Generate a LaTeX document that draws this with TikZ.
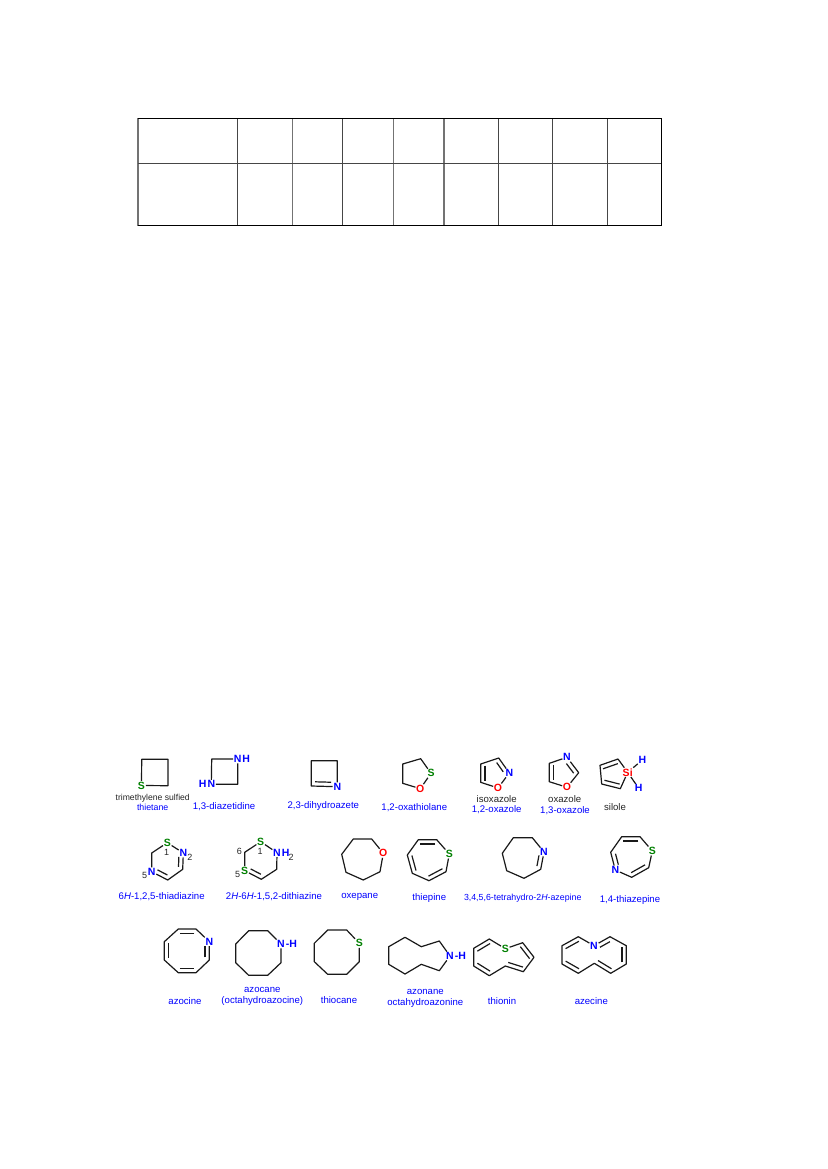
\documentclass[tikz,border=0pt]{standalone}
\usepackage{fontspec}
\setmainfont{Liberation Sans}
\usetikzlibrary{calc}
\definecolor{hblue}{RGB}{0,0,255}
\definecolor{hgreen}{RGB}{0,128,0}
\definecolor{hred}{RGB}{255,0,0}
\definecolor{gridgray}{RGB}{70,70,70}
\definecolor{gridsoft}{RGB}{115,115,115}
\tikzset{
 bond/.style={line width=1.2pt,black!90,line join=round},
 atom/.style={inner sep=0.6pt,font=\fontsize{10.5}{11}\selectfont\bfseries},
 atomN/.style={atom,text=hblue},
 atomS/.style={atom,text=hgreen},
 atomO/.style={atom,text=hred},
 lblue/.style={inner sep=0pt,text=hblue,font=\fontsize{9.6}{10}\selectfont},
 lblack/.style={inner sep=0pt,text=black!85,font=\fontsize{9.6}{10}\selectfont},
 lnum/.style={inner sep=0pt,text=black!85,font=\fontsize{9}{10}\selectfont},
 gridline/.style={line width=.9pt,gridgray},
 gridsoftline/.style={line width=1.4pt,gridsoft},
 gridouter/.style={line width=1pt,black},
}
\newcommand{\C}[2]{\coordinate (#1) at (#2);}
\newcommand{\inb}[2]{\draw[bond] ($(#1)!.09!(#2)!4.3pt!90:(#2)$) -- ($(#1)!.91!(#2)!4.3pt!-90:(#1)$);}
\newcommand{\inh}[2]{\draw[bond] ($(#1)!.14!(#2)!4.3pt!90:(#2)$) -- ($(#1)!.76!(#2)!4.3pt!-90:(#1)$);}
\newcommand{\inr}[2]{\draw[bond] ($(#1)!.24!(#2)!4.3pt!90:(#2)$) -- ($(#1)!.86!(#2)!4.3pt!-90:(#1)$);}
\begin{document}
\begin{tikzpicture}[x=1pt,y=-1pt]
\useasboundingbox (0,0) rectangle (827,1169);
\fill[white] (0,0) rectangle (827,1169);
% table
\coordinate (tl) at (138,118.5); \coordinate (tr) at (661,118.5);
\coordinate (ml) at (138,163.5); \coordinate (mr) at (661,163.5);
\coordinate (bl) at (138,225.5); \coordinate (br) at (661,225.5);
\foreach \x in {138,292.5,393.5,444}{\draw[gridsoftline] (\x,118.5) -- (\x,225.5);}
\foreach \x in {237,342.5,498,552,607.5}{\draw[gridline] (\x,118.5) -- (\x,225.5);}
\draw[gridline] (ml) -- (mr);
\draw[gridouter] (bl) -- (br) -- (tr) -- (tl);
% thietane
\C{a1}{141.7,759.3}\C{a2}{168,759.3}\C{a3}{168,785.7}
\node[atomS] (aS) at (141.5,785.5) {S};
\draw[bond] (aS) -- (a1) -- (a2) -- (a3) -- (aS);
\node[lblack,font=\fontsize{8.6}{10}\selectfont] (ta) at (152.7,798) {trimethylene sulfied};
\node[lblue,font=\fontsize{8.8}{10}\selectfont] (tb) at (152.7,807.7) {thietane};
% diazetidine
\C{b1}{211.7,759}\C{b2}{237.7,784.3}
\node[atomN] (bN1) at (237.7,759) {N};
\node[atomN,anchor=west,inner sep=0pt] (bH1) at (bN1.east) {H};
\node[atomN] (bN2) at (211.3,784.3) {N};
\node[atomN,anchor=east,inner sep=0pt] (bH2) at (bN2.west) {H};
\draw[bond] (bN2) -- (b1) -- (bN1) -- (b2) -- (bN2);
\node[lblue] (tc) at (224,806.7) {1,3-diazetidine};
% azete
\C{c1}{311.3,760.7}\C{c2}{337.3,760.7}\C{c4}{311.3,786}
\node[atomN] (cN) at (337.3,786.7) {N};
\draw[bond] (cN) -- (c2) -- (c1) -- (c4) -- (cN);
\inh{c4}{cN}
\node[lblue] (td) at (323.3,805.7) {2,3-dihydroazete};
% oxathiolane
\C{d1}{402.7,764}\C{d2}{420.7,758.7}\C{d5}{402.7,783.3}
\node[atomS] (dS) at (431,773.3) {S};
\node[atomO] (dO) at (420.3,788.7) {O};
\draw[bond] (dS) -- (d2) -- (d1) -- (d5) -- (dO) -- (dS);
\node[lblue] (te) at (414.3,807.3) {1,2-oxathiolane};
% isoxazole
\C{e1}{480.7,764}\C{e2}{498.7,758}\C{e5}{480.7,782.3}
\node[atomN] (eN) at (509.3,773) {N};
\node[atomO] (eO) at (498,788) {O};
\draw[bond] (eN) -- (e2) -- (e1) -- (e5) -- (eO) -- (eN);
\inb{e1}{e5}\inr{eN}{e2}
\node[lblack] (tf) at (496.7,798.7) {isoxazole};
\node[lblue] (tg) at (496.7,809.7) {1,2-oxazole};
% oxazole
\C{f1}{549.3,763.3}\C{f3}{578.7,772.7}\C{f5}{549.3,781.7}
\node[atomN] (fN) at (567,757.3) {N};
\node[atomO] (fO) at (567,787.3) {O};
\draw[bond] (fN) -- (f1) -- (f5) -- (fO) -- (f3) -- (fN);
\inb{f1}{f5}\inh{f3}{fN}
\node[lblack] (th) at (564.7,799.3) {oxazole};
\node[lblue] (ti) at (565,810.3) {1,3-oxazole};
% silole
\C{g1}{618,759}\C{g2}{600,765.3}\C{g3}{601.7,784}\C{g4}{620.3,788.7}
\node[atom,text=hred] (gSi) at (627.7,772.3) {Si};
\node[atomN] (gH1) at (642.3,760) {H};
\node[atomN] (gH2) at (638.7,788.3) {H};
\draw[bond] (gSi) -- (g1) -- (g2) -- (g3) -- (g4) -- (gSi);
\draw[bond] (gSi) -- (gH1);
\draw[bond] (gSi) -- (gH2);
\inb{g1}{g2}\inb{g3}{g4}
\node[lblack] (tj) at (615,807.3) {silole};
% thiadiazine
\C{h3}{182.7,869.3}\C{h4}{167.7,880}\C{h6}{151.7,853}
\node[atomS] (hS) at (167.3,842.7) {S};
\node[atomN] (hN2) at (183.3,853) {N};
\node[atomN] (hN5) at (151.7,871.7) {N};
\draw[bond] (hS) -- (hN2) -- (h3) -- (h4) -- (hN5) -- (h6) -- (hS);
\inh{h3}{hN2}\inr{hN5}{h4}
\node[lnum] (hn1) at (166.7,852.3) {1};
\node[lnum] (hn2) at (190,857.3) {2};
\node[lnum] (hn5) at (144.7,875) {5};
\node[lblue] (tk) at (161.7,896.7) {6\textit{H}-1,2,5-thiadiazine};
% dithiazine
\C{i3}{276.7,869.3}\C{i4}{261.3,879.3}\C{i6}{244.7,852.3}
\node[atomS] (iS1) at (260.7,841.7) {S};
\node[atomN] (iN) at (277,852.7) {N};
\node[atomN,anchor=west,inner sep=0pt] (iH) at (iN.east) {H};
\node[atomS] (iS5) at (244.7,870.7) {S};
\draw[bond] (iS1) -- (iN) -- (i3) -- (i4) -- (iS5) -- (i6) -- (iS1);
\inr{iS5}{i4}
\node[lnum] (in1) at (260,851) {1};
\node[lnum] (in2) at (291,857.3) {2};
\node[lnum] (in6) at (239.3,851.7) {6};
\node[lnum] (in5) at (237.7,874.3) {5};
\node[lblue] (tl2) at (274,896.3) {2\textit{H}-6\textit{H}-1,5,2-dithiazine};
% oxepane
\C{j1}{371.7,839}\C{j2}{353.3,839}\C{j3}{341.7,854.3}\C{j4}{346,872.3}\C{j5}{363.3,880}\C{j6}{380,871.7}
\node[atomO] (jO) at (383.3,853.3) {O};
\draw[bond] (jO) -- (j1) -- (j2) -- (j3) -- (j4) -- (j5) -- (j6) -- (jO);
\node[lblue] (tm) at (359.7,897) {oxepane};
% thiepine
\C{k1}{436.7,839.7}\C{k2}{418.3,839.7}\C{k3}{407.3,855}\C{k4}{412.3,873.3}\C{k5}{429,880.7}\C{k6}{446,871.7}
\node[atomS] (kS) at (449.3,854) {S};
\draw[bond] (kS) -- (k1) -- (k2) -- (k3) -- (k4) -- (k5) -- (k6) -- (kS);
\inb{k1}{k2}\inb{k3}{k4}\inb{k5}{k6}
\node[lblue] (tn) at (429.3,897.7) {thiepine};
% azepine
\C{l1}{532.3,837.7}\C{l2}{513.3,837.7}\C{l3}{502.3,853.3}\C{l4}{506.7,870.7}\C{l5}{524,878.3}\C{l6}{540.7,869.3}
\node[atomN] (lN) at (544,852) {N};
\draw[bond] (lN) -- (l1) -- (l2) -- (l3) -- (l4) -- (l5) -- (l6) -- (lN);
\inh{l6}{lN}
\node[lblue,font=\fontsize{8.8}{10}\selectfont] (to) at (522.7,898) {3,4,5,6-tetrahydro-2\textit{H}-azepine};
% thiazepine
\C{m1}{640,836.7}\C{m2}{621.7,836.7}\C{m3}{610.7,852.3}\C{m5}{631.7,877.3}\C{m6}{648.7,867.7}
\node[atomS] (mS) at (652.3,851) {S};
\node[atomN] (mN) at (615.3,870) {N};
\draw[bond] (mS) -- (m1) -- (m2) -- (m3) -- (mN) -- (m5) -- (m6) -- (mS);
\inb{m1}{m2}\inh{m3}{mN}\inb{m5}{m6}
\node[lblue] (tp) at (630,900) {1,4-thiazepine};
% azocine
\C{n1}{196,929}\C{n2}{178.3,929}\C{n3}{164.3,941.7}\C{n4}{164.3,960}\C{n5}{178.3,972.7}\C{n6}{196,972.7}\C{n7}{209.3,960}
\node[atomN] (nN) at (209.3,941.7) {N};
\draw[bond] (nN) -- (n1) -- (n2) -- (n3) -- (n4) -- (n5) -- (n6) -- (n7) -- (nN);
\inb{n1}{n2}\inb{n3}{n4}\inb{n5}{n6}\inh{n7}{nN}
\node[lblue] (tq) at (185,1000.7) {azocine};
% azocane
\C{o1}{267.7,930.7}\C{o2}{248.7,930.7}\C{o3}{235.7,944}\C{o4}{235.7,962.7}\C{o5}{248.7,975.3}\C{o6}{267.7,975.3}\C{o7}{281,962.7}
\node[atomN] (oN) at (281,944) {N};
\node[atomN,anchor=west,inner sep=0pt] (oH) at (oN.east) {-H};
\draw[bond] (oN) -- (o1) -- (o2) -- (o3) -- (o4) -- (o5) -- (o6) -- (o7) -- (oN);
\node[lblue] (tr1) at (262.3,990.3) {azocane};
\node[lblue] (tr2) at (262.3,1001) {(octahydroazocine)};
% thiocane
\C{p1}{346.7,930}\C{p2}{327.7,930}\C{p3}{314.3,943.3}\C{p4}{314.3,961.7}\C{p5}{327.7,974.3}\C{p6}{346.7,974.3}\C{p7}{359.3,961.7}
\node[atomS] (pS) at (359.3,943.3) {S};
\draw[bond] (pS) -- (p1) -- (p2) -- (p3) -- (p4) -- (p5) -- (p6) -- (p7) -- (pS);
\node[lblue] (ts) at (339,1000.3) {thiocane};
% azonane
\C{q1}{439.3,941}\C{q2}{421.3,946.7}\C{q3}{405,937.3}\C{q4}{388.7,946.7}\C{q5}{388.7,964.3}\C{q6}{405,974}\C{q7}{421.3,964.3}\C{q8}{439.3,970.7}
\node[atomN] (qN) at (450,956) {N};
\node[atomN,anchor=west,inner sep=0pt] (qH) at (qN.east) {-H};
\draw[bond] (qN) -- (q1) -- (q2) -- (q3) -- (q4) -- (q5) -- (q6) -- (q7) -- (q8) -- (qN);
\node[lblue] (tt1) at (425.3,991.7) {azonane};
\node[lblue] (tt2) at (425.3,1003) {octahydroazonine};
% thionin
\C{r1}{489.3,939}\C{r2}{473.7,948.3}\C{r3}{473.7,966}\C{r4}{489.3,975.7}\C{r5}{505.3,966}\C{r6}{523.3,971.7}\C{r7}{534,957.3}\C{r8}{522.7,942.7}
\node[atomS] (rS) at (505.3,948.7) {S};
\draw[bond] (rS) -- (r1) -- (r2) -- (r3) -- (r4) -- (r5) -- (r6) -- (r7) -- (r8) -- (rS);
\inb{r1}{r2}\inb{r3}{r4}\inb{r5}{r6}\inb{r7}{r8}
\node[lblue] (tu) at (502,1001.3) {thionin};
% azecine
\C{s1}{578.3,936.7}\C{s2}{562,945.7}\C{s3}{562,964}\C{s4}{578.3,973.3}\C{s5}{594.3,963.3}\C{s6}{610.7,973.3}\C{s7}{626.3,964}\C{s8}{626.3,945.7}\C{s9}{610,936.7}
\node[atomN] (sN) at (594,945.7) {N};
\draw[bond] (sN) -- (s1) -- (s2) -- (s3) -- (s4) -- (s5) -- (s6) -- (s7) -- (s8) -- (s9) -- (sN);
\inb{s1}{s2}\inb{s3}{s4}\inb{s5}{s6}\inb{s7}{s8}\inh{s9}{sN}
\node[lblue] (tv) at (591.3,1000.7) {azecine};
\end{tikzpicture}
\end{document}
